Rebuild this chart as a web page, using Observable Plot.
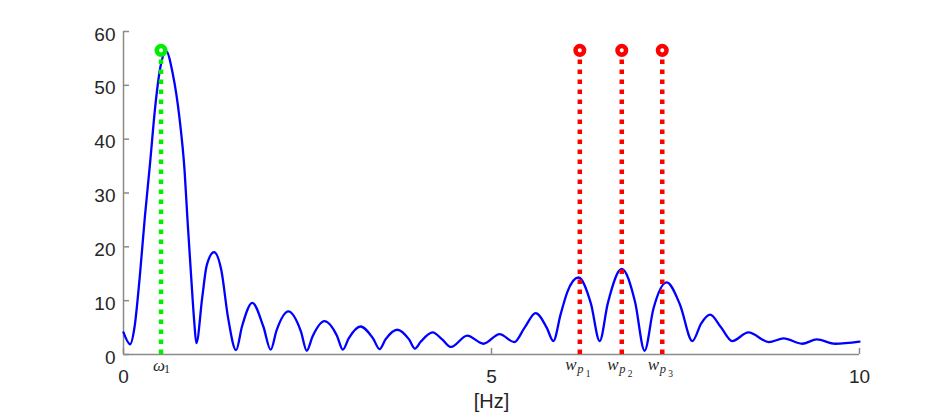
<!DOCTYPE html>
<html>
<head>
<meta charset="utf-8">
<script src="https://cdn.jsdelivr.net/npm/d3@7"></script>
<script src="https://cdn.jsdelivr.net/npm/@observablehq/plot@0.6"></script>
<style>
  html, body { margin: 0; padding: 0; background: #fff; }
  #chart svg { display: block; }
</style>
</head>
<body>
<div id="chart"></div>
<script>
// Spectrum magnitude (x in Hz, y amplitude)
const freq = [0.00,0.09,0.15,0.22,0.29,0.36,0.43,0.50,0.58,0.67,0.76,0.83,0.87,0.92,0.96,0.99,
  1.07,1.13,1.23,1.33,1.42,1.53,1.61,1.75,1.90,2.00,2.08,2.24,2.41,2.49,2.57,2.73,2.90,2.98,
  3.06,3.22,3.39,3.48,3.56,3.72,3.88,3.96,4.04,4.20,4.33,4.45,4.67,4.89,5.11,5.31,5.45,5.60,5.75,
  5.84,5.94,6.03,6.18,6.35,6.47,6.58,6.77,6.95,7.08,7.20,7.38,7.56,7.73,7.85,7.97,8.12,8.27,
  8.49,8.77,8.97,9.22,9.42,9.67,10.00];
const amp = [4.1,1.9,5.1,14.3,25.5,35.4,45.9,53.3,56.3,52.1,44.0,34.1,24.9,14.3,6.3,2.1,
  10.6,16.5,19.0,15.6,6.9,0.8,5.2,9.6,5.2,0.9,4.5,8.0,4.3,0.7,3.4,6.2,3.5,0.9,
  3.0,5.2,3.0,1.0,2.8,4.6,2.8,1.1,2.4,4.1,2.8,1.4,3.5,2.0,3.8,2.3,5.0,7.7,5.0,
  2.5,7.5,11.6,14.3,9.5,2.5,9.5,15.9,9.8,0.7,8.5,13.4,9.3,2.5,5.8,7.4,5.0,2.5,
  4.1,2.3,3.0,2.0,2.8,2.0,2.4];

// Marked frequencies
const omegaFreq = [0.51];
const omegaSub = ["1"];
const peakFreqs = [6.20, 6.77, 7.32];
const peakSubs = ["1", "2", "3"];
const markerLevel = 56.5;

// Axis ticks
const xTicks = [0, 5, 10];
const yTicks = [0, 10, 20, 30, 40, 50, 60];
const xLabel = "[Hz]";

const spectrum = freq.map((f, i) => ({f, a: amp[i]}));
const omegaRows = omegaFreq.map((f, i) => ({f, top: markerLevel, sub: omegaSub[i]}));
const peakRows = peakFreqs.map((f, i) => ({f, top: markerLevel, sub: peakSubs[i]}));

const axisColor = "#8a8a8a";
const textColor = "#262626";
const sans = "'Liberation Sans', Arial, Helvetica, sans-serif";
const serif = "'Liberation Serif', 'Times New Roman', serif";

const chart = Plot.plot({
  width: 950,
  height: 420,
  marginLeft: 123,
  marginRight: 91,
  marginTop: 31,
  marginBottom: 66,
  style: {background: "#fff", fontFamily: sans},
  x: {domain: [0, 10]},
  y: {domain: [0, 60]},
  marks: [
    // axis lines
    Plot.ruleY([0], {stroke: axisColor, strokeWidth: 1.5}),
    Plot.ruleX([0], {y1: 0, y2: 60, stroke: axisColor, strokeWidth: 1.5}),
    // inward ticks
    Plot.axisY({ticks: yTicks, tickSize: -6, text: null, stroke: axisColor, strokeWidth: 1.5, label: null}),
    Plot.axisX({ticks: xTicks, tickSize: -6, text: null, stroke: axisColor, strokeWidth: 1.5, label: null}),
    // tick labels
    Plot.axisY({ticks: yTicks, tickSize: 0, tickPadding: 8, fontSize: 19, fill: textColor, dy: 3, label: null}),
    Plot.axisX({ticks: xTicks, tickSize: 0, tickPadding: 15, fontSize: 19, fill: textColor, label: null}),
    Plot.text([xLabel], {frameAnchor: "bottom", dy: 53, fontSize: 20, fill: textColor}),
    // spectrum
    Plot.line(spectrum, {x: "f", y: "a", stroke: "#0000ff", strokeWidth: 2.3, curve: "monotone-x"}),
    // dotted markers
    Plot.ruleX(omegaRows, {x: "f", y1: 0, y2: "top", stroke: "#00ee00", strokeWidth: 4.5, strokeDasharray: "4.5,5.5"}),
    Plot.ruleX(peakRows, {x: "f", y1: 0, y2: "top", stroke: "#ff0000", strokeWidth: 4.5, strokeDasharray: "4.5,5.5"}),
    Plot.dot(omegaRows, {x: "f", y: "top", r: 4.3, stroke: "#00ee00", strokeWidth: 4.5, fill: "#fff"}),
    Plot.dot(peakRows, {x: "f", y: "top", r: 4.3, stroke: "#ff0000", strokeWidth: 4.5, fill: "#fff"}),
    // omega_1 label
    Plot.text(omegaRows, {x: "f", y: 0, text: () => "ω", textAnchor: "start", lineAnchor: "bottom", dx: -8, dy: 16.5, fontSize: 17, fontStyle: "italic", fontFamily: serif, fill: textColor}),
    Plot.text(omegaRows, {x: "f", y: 0, text: "sub", textAnchor: "start", lineAnchor: "bottom", dx: 3, dy: 18, fontSize: 12, fontFamily: serif, fill: textColor}),
    // w_{p_i} labels
    Plot.text(peakRows, {x: "f", y: 0, text: () => "w", textAnchor: "start", lineAnchor: "bottom", dx: -14.5, dy: 15.5, fontSize: 17, fontStyle: "italic", fontFamily: serif, fill: textColor}),
    Plot.text(peakRows, {x: "f", y: 0, text: () => "p", textAnchor: "start", lineAnchor: "bottom", dx: -2.5, dy: 18.5, fontSize: 12.5, fontStyle: "italic", fontFamily: serif, fill: textColor}),
    Plot.text(peakRows, {x: "f", y: 0, text: "sub", textAnchor: "start", lineAnchor: "bottom", dx: 6, dy: 22.5, fontSize: 9.5, fontFamily: serif, fill: textColor})
  ]
});
document.getElementById("chart").appendChild(chart);
</script>
</body>
</html>
